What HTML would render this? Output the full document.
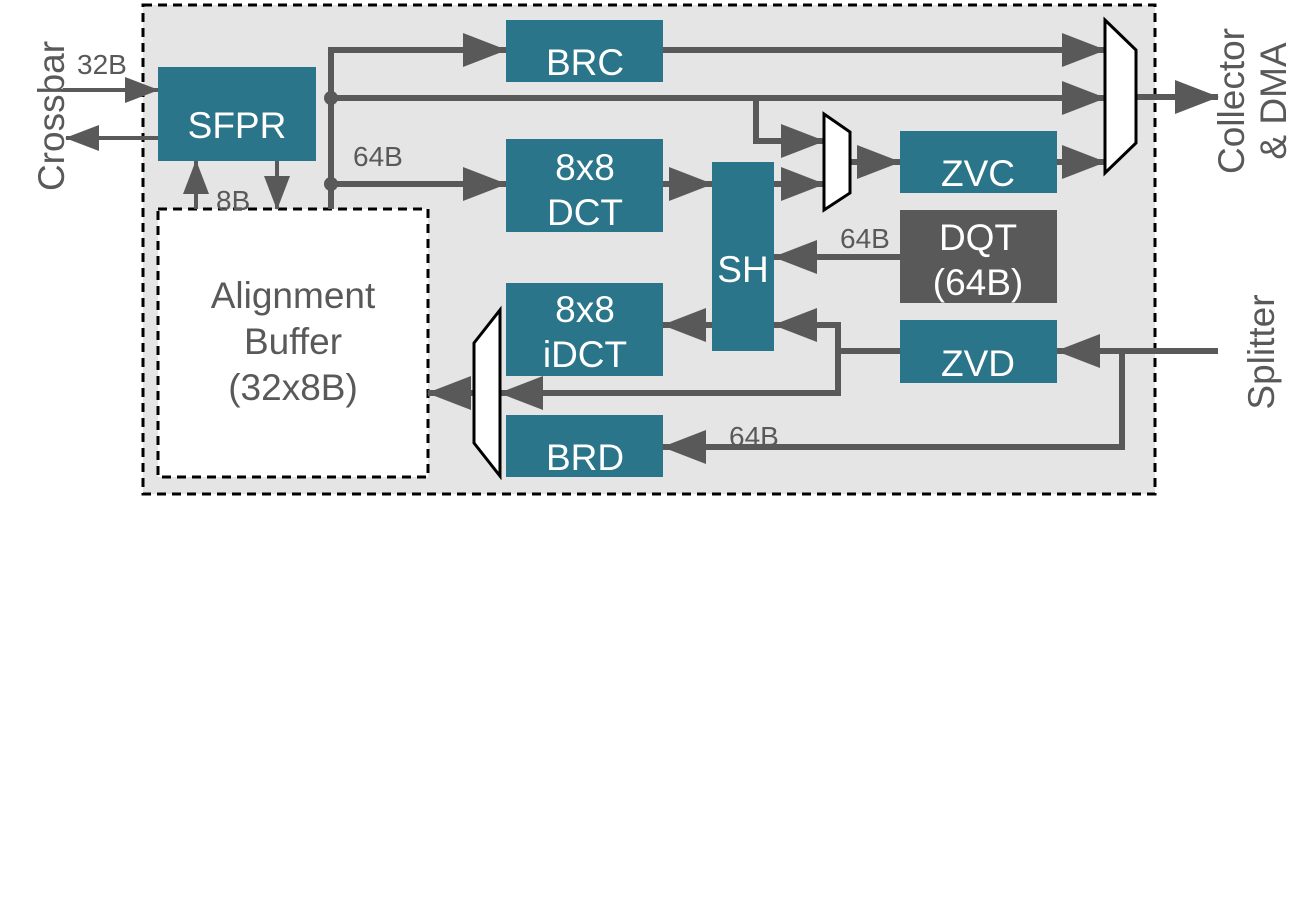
<!DOCTYPE html>
<html><head><meta charset="utf-8"><style>html,body{margin:0;padding:0;background:#fff}svg{display:block}</style></head><body>
<svg width="1301" height="898" viewBox="0 0 1301 898" xmlns="http://www.w3.org/2000/svg" font-family="Liberation Sans, Arial, sans-serif">
<defs><marker id="a" markerWidth="44" markerHeight="34" refX="43" refY="17" orient="auto" markerUnits="userSpaceOnUse"><path d="M0,0 L44,17 L0,34 z" fill="#595959"/></marker>
<marker id="b" markerWidth="34" markerHeight="26" refX="33" refY="13" orient="auto" markerUnits="userSpaceOnUse"><path d="M0,0 L34,13 L0,26 z" fill="#595959"/></marker></defs>
<rect x="143" y="5" width="1012" height="489" fill="#e5e5e5" stroke="#000" stroke-width="3" stroke-dasharray="9,6"/>
<rect x="158" y="209" width="270" height="268" fill="#fff" stroke="#000" stroke-width="3" stroke-dasharray="9,6"/>
<g fill="#2a7589">
<rect x="158" y="67" width="158" height="94"/>
<rect x="506" y="20" width="157" height="62"/>
<rect x="506" y="139" width="157" height="93"/>
<rect x="712" y="162" width="62" height="189"/>
<rect x="900" y="131" width="157" height="62"/>
<rect x="506" y="283" width="157" height="93"/>
<rect x="900" y="320" width="157" height="63"/>
<rect x="506" y="415" width="157" height="62"/>
</g>
<rect x="900" y="210" width="157" height="93" fill="#595959"/>
<g stroke="#595959" stroke-width="6" fill="none">
<line x1="63" y1="90" x2="158" y2="90" marker-end="url(#b)" stroke-width="4"/>
<line x1="158" y1="138" x2="66" y2="138" marker-end="url(#b)" stroke-width="4"/>
<polyline points="331,209 331,50 506,50" marker-end="url(#a)"/>
<line x1="331" y1="98" x2="1105" y2="98" marker-end="url(#a)"/>
<line x1="331" y1="184" x2="506" y2="184" marker-end="url(#a)"/>
<polyline points="756,98 756,141 824,141" marker-end="url(#a)"/>
<line x1="663" y1="184" x2="712" y2="184" marker-end="url(#a)"/>
<line x1="774" y1="184" x2="824" y2="184" marker-end="url(#a)"/>
<line x1="850" y1="162" x2="900" y2="162" marker-end="url(#a)"/>
<line x1="1057" y1="162" x2="1105" y2="162" marker-end="url(#a)"/>
<line x1="663" y1="50" x2="1105" y2="50" marker-end="url(#a)"/>
<line x1="1136" y1="97" x2="1218" y2="97" marker-end="url(#a)"/>
<line x1="900" y1="257" x2="774" y2="257" marker-end="url(#a)"/>
<polyline points="900,351 838,351 838,325 774,325" marker-end="url(#a)"/>
<polyline points="838,351 838,393 500,393" marker-end="url(#a)"/>
<line x1="712" y1="325" x2="663" y2="325" marker-end="url(#a)"/>
<line x1="1218" y1="351" x2="1057" y2="351" marker-end="url(#a)"/>
<polyline points="1122,351 1122,447 663,447" marker-end="url(#a)"/>
<line x1="474" y1="393" x2="428" y2="393" marker-end="url(#a)"/>
<line x1="277" y1="161" x2="277" y2="209" marker-end="url(#b)" stroke-width="4"/>
<line x1="196" y1="209" x2="196" y2="161" marker-end="url(#b)" stroke-width="4"/>
</g>
<circle cx="331" cy="98" r="7" fill="#595959"/>
<circle cx="331" cy="184" r="7" fill="#595959"/>
<g fill="#fff" stroke="#000" stroke-width="3">
<polygon points="1105,20 1136,50 1136,143 1105,173"/>
<polygon points="824,114 850,132 850,193 824,210"/>
<polygon points="474,343 500,310 500,476 474,443"/>
</g>
<g fill="#fff" font-size="37" text-anchor="middle">
<text x="237" y="138">SFPR</text>
<text x="585" y="75">BRC</text>
<text x="585" y="180">8x8</text>
<text x="585" y="225">DCT</text>
<text x="743" y="282">SH</text>
<text x="978" y="186">ZVC</text>
<text x="978" y="250">DQT</text>
<text x="978" y="295">(64B)</text>
<text x="585" y="322">8x8</text>
<text x="585" y="367">iDCT</text>
<text x="978" y="376">ZVD</text>
<text x="585" y="470">BRD</text>
</g>
<g fill="#595959" font-size="37" text-anchor="middle">
<text x="293" y="308">Alignment</text>
<text x="293" y="354">Buffer</text>
<text x="293" y="400">(32x8B)</text>
<text transform="translate(64,116) rotate(-90)">Crossbar</text>
<text transform="translate(1244,101) rotate(-90)">Collector</text>
<text transform="translate(1286,101) rotate(-90)">&amp; DMA</text>
<text transform="translate(1274,352) rotate(-90)">Splitter</text>
</g>
<g fill="#595959" font-size="28">
<text x="77" y="74">32B</text>
<text x="353" y="166">64B</text>
<text x="216" y="210">8B</text>
<text x="840" y="248">64B</text>
<text x="729" y="446">64B</text>
</g>
</svg>
</body></html>
